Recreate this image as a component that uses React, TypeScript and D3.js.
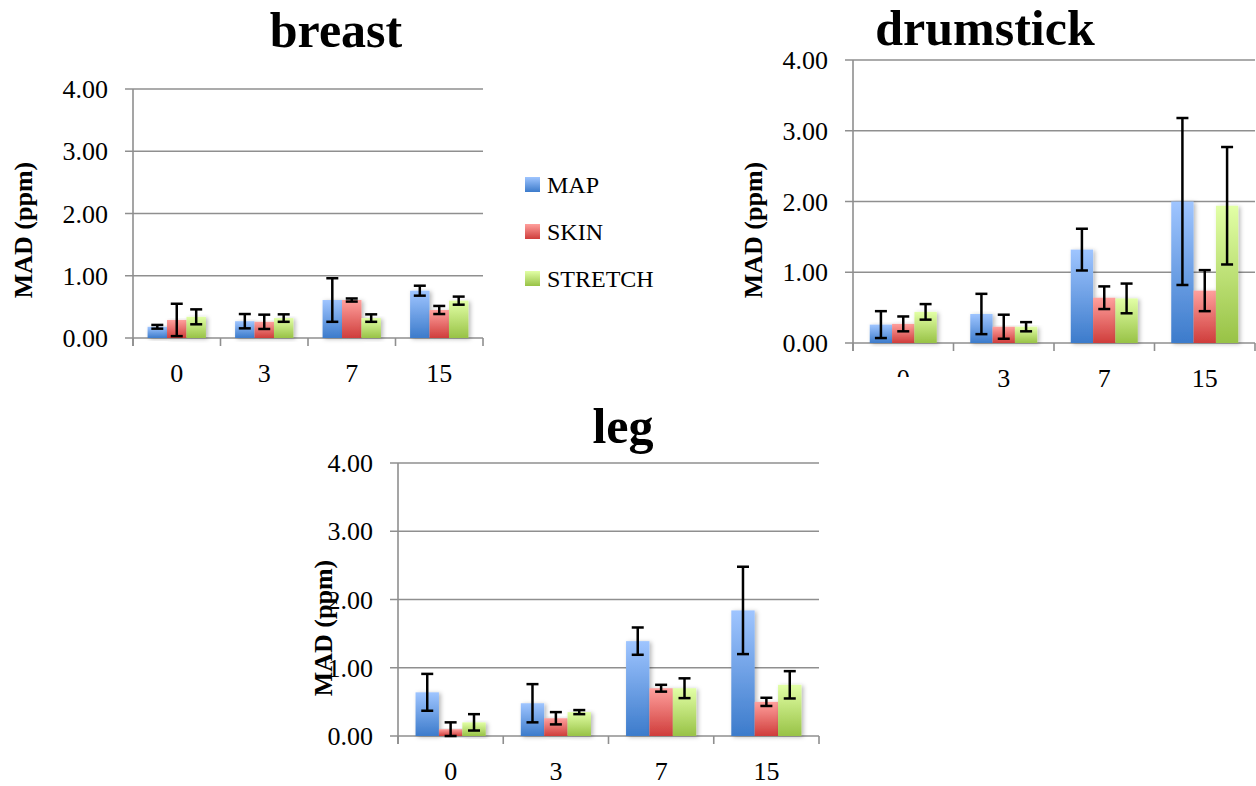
import React from "react";
import * as d3 from "d3";

const CATEGORIES = ["0", "3", "7", "15"];
const SERIES = ["MAP", "SKIN", "STRETCH"];
const Y_TICKS = [0, 1, 2, 3, 4];
const Y_LABEL = "MAD (ppm)";

// breast
const BREAST_MAP = [0.18, 0.27, 0.61, 0.76];
const BREAST_SKIN = [0.29, 0.26, 0.61, 0.45];
const BREAST_STRETCH = [0.34, 0.32, 0.32, 0.6];
const BREAST_MAP_ERR = [0.03, 0.115, 0.35, 0.08];
const BREAST_SKIN_ERR = [0.26, 0.115, 0.025, 0.065];
const BREAST_STRETCH_ERR = [0.12, 0.06, 0.06, 0.065];

// drumstick
const DRUM_MAP = [0.26, 0.41, 1.32, 2.0];
const DRUM_SKIN = [0.27, 0.23, 0.64, 0.74];
const DRUM_STRETCH = [0.44, 0.23, 0.63, 1.94];
const DRUM_MAP_ERR = [0.19, 0.285, 0.295, 1.18];
const DRUM_SKIN_ERR = [0.105, 0.17, 0.16, 0.29];
const DRUM_STRETCH_ERR = [0.11, 0.065, 0.21, 0.83];

// leg
const LEG_MAP = [0.64, 0.48, 1.39, 1.84];
const LEG_SKIN = [0.1, 0.26, 0.7, 0.5];
const LEG_STRETCH = [0.2, 0.35, 0.7, 0.75];
const LEG_MAP_ERR = [0.27, 0.28, 0.2, 0.64];
const LEG_SKIN_ERR = [0.1, 0.09, 0.05, 0.06];
const LEG_STRETCH_ERR = [0.12, 0.03, 0.145, 0.2];

const GRADS = [
  { id: "gMap", top: "#9fc5ff", bottom: "#3c7bcb" },
  { id: "gSkin", top: "#ffa09d", bottom: "#cf3d3b" },
  { id: "gStretch", top: "#e2ffa6", bottom: "#98c246" },
];

const FONT = "'Liberation Serif', 'Times New Roman', serif";
const GRID = "#8f8f8f";

type Layout = {
  x0: number;
  x1: number;
  yTop: number;
  yBot: number;
  titleX: number;
  titleY: number;
  labelX: number;
  labelY: number;
};

function Chart({
  title,
  values,
  errors,
  L,
}: {
  title: string;
  values: number[][];
  errors: number[][];
  L: Layout;
}) {
  const y = d3.scaleLinear().domain([0, 4]).range([L.yBot, L.yTop]);
  const xb = d3
    .scaleBand<string>()
    .domain(CATEGORIES)
    .range([L.x0, L.x1])
    .paddingInner(1 / 3)
    .paddingOuter(1 / 6);
  const xs = d3.scaleBand<string>().domain(SERIES).range([0, xb.bandwidth()]);
  const step = xb.step();
  const cap = 6;
  return (
    <g>
      <text
        x={L.titleX}
        y={L.titleY}
        textAnchor="middle"
        fontFamily={FONT}
        fontWeight="bold"
        fontSize={50}
      >
        {title}
      </text>
      {Y_TICKS.map((t) => (
        <g key={t}>
          <line x1={L.x0 - 8} x2={L.x1} y1={y(t)} y2={y(t)} stroke={GRID} strokeWidth={1.6} />
          <text
            x={L.x0 - 25}
            y={y(t)}
            dy="0.35em"
            textAnchor="end"
            fontFamily={FONT}
            fontSize={26}
          >
            {d3.format(".2f")(t)}
          </text>
        </g>
      ))}
      <line x1={L.x0} x2={L.x0} y1={L.yTop} y2={L.yBot + 8} stroke={GRID} strokeWidth={1.6} />
      {d3.range(CATEGORIES.length + 1).map((i) => (
        <line
          key={i}
          x1={L.x0 + i * step}
          x2={L.x0 + i * step}
          y1={L.yBot}
          y2={L.yBot + 8}
          stroke={GRID}
          strokeWidth={1.6}
        />
      ))}
      {CATEGORIES.map((c) => (
        <text
          key={c}
          x={(xb(c) as number) + xb.bandwidth() / 2}
          y={L.yBot + 44}
          textAnchor="middle"
          fontFamily={FONT}
          fontSize={26}
        >
          {c}
        </text>
      ))}
      {SERIES.map((s, si) =>
        CATEGORIES.map((c, ci) => {
          const v = values[si][ci];
          const bx = (xb(c) as number) + (xs(s) as number);
          return (
            <rect
              key={s + c}
              x={bx}
              y={y(v)}
              width={xs.bandwidth()}
              height={L.yBot - y(v)}
              fill={`url(#${GRADS[si].id})`}
              filter="url(#shadow)"
            />
          );
        })
      )}
      {SERIES.map((s, si) =>
        CATEGORIES.map((c, ci) => {
          const v = values[si][ci];
          const e = errors[si][ci];
          const cx = (xb(c) as number) + (xs(s) as number) + xs.bandwidth() / 2;
          const yh = y(v + e);
          const yl = y(Math.max(0, v - e));
          return (
            <g key={"e" + s + c} stroke="#000" strokeWidth={2.5}>
              <line x1={cx} x2={cx} y1={yh} y2={yl} />
              <line x1={cx - cap} x2={cx + cap} y1={yh} y2={yh} />
              <line x1={cx - cap} x2={cx + cap} y1={yl} y2={yl} />
            </g>
          );
        })
      )}
      <text
        transform={`translate(${L.labelX},${L.labelY}) rotate(-90)`}
        textAnchor="middle"
        dy="0.35em"
        fontFamily={FONT}
        fontWeight="bold"
        fontSize={26}
      >
        {Y_LABEL}
      </text>
    </g>
  );
}

export default function App() {
  const legendY = d3.scaleBand<string>().domain(SERIES).range([177, 318]);
  return (
    <svg
      width={1256}
      height={786}
      style={{ position: "absolute", left: 0, top: 0, display: "block", background: "#fff" }}
    >
      <defs>
        {GRADS.map((g) => (
          <linearGradient key={g.id} id={g.id} x1="0" y1="0" x2="0" y2="1">
            <stop offset="0" stopColor={g.top} />
            <stop offset="1" stopColor={g.bottom} />
          </linearGradient>
        ))}
        <filter id="shadow" x="-30%" y="-10%" width="160%" height="130%">
          <feDropShadow dx="2" dy="1" stdDeviation="2" floodColor="#000" floodOpacity="0.28" />
        </filter>
      </defs>
      <rect x={0} y={0} width={1256} height={786} fill="#fff" />
      <Chart
        title="drumstick"
        values={[DRUM_MAP, DRUM_SKIN, DRUM_STRETCH]}
        errors={[DRUM_MAP_ERR, DRUM_SKIN_ERR, DRUM_STRETCH_ERR]}
        L={{ x0: 853, x1: 1255, yTop: 60, yBot: 343, titleX: 985, titleY: 45, labelX: 753, labelY: 230 }}
      />
      <rect x={290} y={377} width={665} height={409} fill="#fff" />
      <Chart
        title="leg"
        values={[LEG_MAP, LEG_SKIN, LEG_STRETCH]}
        errors={[LEG_MAP_ERR, LEG_SKIN_ERR, LEG_STRETCH_ERR]}
        L={{ x0: 398, x1: 819, yTop: 463, yBot: 736, titleX: 623, titleY: 443, labelX: 323, labelY: 628 }}
      />
      <Chart
        title="breast"
        values={[BREAST_MAP, BREAST_SKIN, BREAST_STRETCH]}
        errors={[BREAST_MAP_ERR, BREAST_SKIN_ERR, BREAST_STRETCH_ERR]}
        L={{ x0: 133, x1: 483, yTop: 89, yBot: 338, titleX: 336, titleY: 47, labelX: 23, labelY: 230 }}
      />
      {SERIES.map((s, i) => (
        <g key={s}>
          <rect
            x={525}
            y={legendY(s) as number}
            width={15}
            height={15}
            fill={`url(#${GRADS[i].id})`}
          />
          <text x={547} y={(legendY(s) as number) + 16} fontFamily={FONT} fontSize={24}>
            {s}
          </text>
        </g>
      ))}
    </svg>
  );
}
